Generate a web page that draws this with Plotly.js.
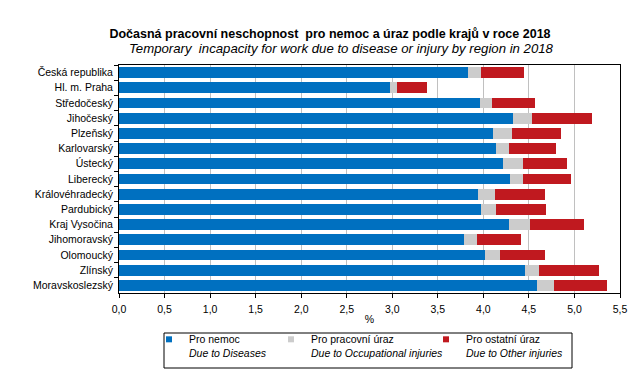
<!DOCTYPE html>
<html><head><meta charset="utf-8">
<script src="https://cdn.plot.ly/plotly-3.0.1.min.js"></script>
<style>body{margin:0;background:#fff}#c{width:641px;height:392px}</style>
</head><body><div id="c"></div>
<script>
var regions = ["Česká republika","Hl. m. Praha","Středočeský","Jihočeský","Plzeňský","Karlovarský","Ústecký","Liberecký","Královéhradecký","Pardubický","Kraj Vysočina","Jihomoravský","Olomoucký","Zlínský","Moravskoslezský"];
var disease = [3.83,2.97,3.96,4.32,4.11,4.14,4.22,4.29,3.94,3.97,4.28,3.79,4.02,4.46,4.59];
var occupational = [0.14,0.08,0.14,0.21,0.20,0.14,0.21,0.14,0.19,0.17,0.23,0.14,0.16,0.15,0.18];
var other = [0.48,0.33,0.47,0.66,0.54,0.52,0.49,0.53,0.55,0.55,0.59,0.48,0.50,0.66,0.59];
var seriesNames = ["Pro nemoc<br><i>Due to Diseases</i>","Pro pracovní úraz<br><i>Due to Occupational injuries</i>","Pro ostatní úraz<br><i>Due to Other injuries</i>"];
var titleCz = "Dočasná pracovní neschopnost  pro nemoc a úraz podle krajů v roce 2018";
var titleEn = "Temporary  incapacity for work due to disease or injury by region in 2018";
var colors = ["#0070c0","#cccccc","#c0191f"];
var vals = [disease, occupational, other];
var legendIds = ["legend","legend2","legend3"];
var traces = vals.map(function(v,i){
  return {type:"bar", orientation:"h", y:regions, x:v, name:seriesNames[i],
    marker:{color:colors[i]}, showlegend:false};
});
// legend-only entries (small square symbols)
vals.forEach(function(v,i){
  traces.push({type:"scatter", mode:"markers", x:[null], y:[null], name:seriesNames[i],
    marker:{symbol:"square", size:6, color:colors[i]}, legend:legendIds[i], showlegend:true});
});
var W = 501, H = 228, L = 119, T = 65;
function px(x){ return (x-L)/W; }
function py(y){ return (T+H-y)/H; }
var legBase = {orientation:"v", yanchor:"top", xanchor:"left", y:py(326), bgcolor:"rgba(0,0,0,0)",
  borderwidth:0, font:{size:10.5}, valign:"top", itemwidth:30};
var layout = {
  width:641, height:392, barmode:"stack", bargap:0.28,
  font:{family:"Liberation Sans, Arial, sans-serif", size:10.5, color:"#000"},
  margin:{l:L, r:641-L-W, t:T, b:392-T-H},
  paper_bgcolor:"#fff", plot_bgcolor:"#fff",
  title:{text:"<b>"+titleCz+"</b>", font:{size:12.5, color:"#000"}, x:330/641, xanchor:"center", y:1-29/392, yanchor:"top"},
  annotations:[{text:"<i>"+titleEn+"</i>", xref:"paper", yref:"paper", x:px(341), y:py(48), xanchor:"center", yanchor:"middle",
    showarrow:false, font:{size:13.2, color:"#000"}}],
  separators:", ",
  xaxis:{range:[0,5.5], dtick:0.5, tick0:0, tickformat:".1f", showgrid:true, gridcolor:"#c0c0c0", gridwidth:1,
    ticks:"outside", ticklen:4, tickcolor:"#000", showline:true, linecolor:"#000", linewidth:1, mirror:true,
    ticklabelstandoff:2,
    zeroline:false, title:{text:"%", standoff:2, font:{size:10.5}}, fixedrange:true},
  yaxis:{autorange:"reversed", type:"category", tickson:"boundaries", ticks:"outside", ticklen:4, tickcolor:"#000",
    showline:true, linecolor:"#000", linewidth:1, mirror:true, showgrid:false, ticksuffix:" ", fixedrange:true},
  legend: Object.assign({}, legBase, {x:px(149)}),
  legend2: Object.assign({}, legBase, {x:px(271)}),
  legend3: Object.assign({}, legBase, {x:px(426)}),
  shapes:[{type:"rect", xref:"paper", yref:"paper", x0:px(164), x1:px(572), y0:py(368), y1:py(333),
    line:{color:"#000", width:1}, fillcolor:"rgba(0,0,0,0)"}],
  showlegend:true
};
Plotly.newPlot("c", traces, layout, {displayModeBar:false, staticPlot:true});
</script></body></html>
